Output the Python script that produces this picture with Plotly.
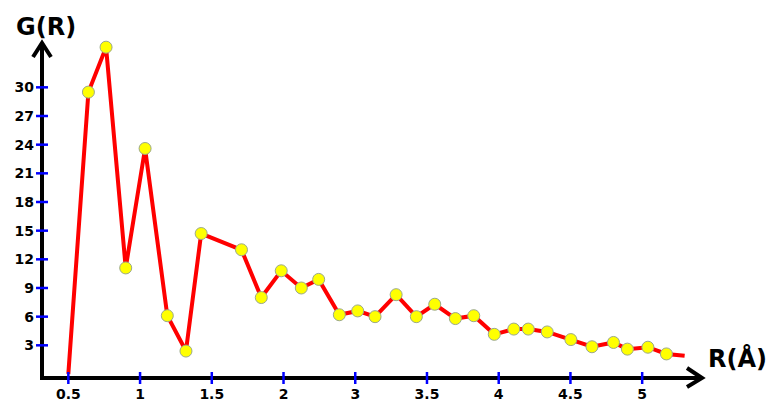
import plotly.graph_objects as go

# Data (x in axis units, ticks evenly spaced)
R = [0.50, 0.64, 0.763, 0.90, 1.035, 1.19, 1.32, 1.426, 1.707, 1.845, 1.984,
     2.124, 2.245, 2.389, 2.517, 2.638, 2.785, 2.926, 3.054, 3.198, 3.326,
     3.469, 3.605, 3.706, 3.838, 4.003, 4.15, 4.30, 4.397, 4.54, 4.669, 4.796]
G = [0.0, 29.5, 34.2, 11.1, 23.6, 6.1, 2.4, 14.7, 13.0, 8.0, 10.8,
     9.0, 9.9, 6.2, 6.6, 6.0, 8.3, 6.0, 7.3, 5.8, 6.1,
     4.15, 4.7, 4.7, 4.4, 3.6, 2.85, 3.3, 2.6, 2.8, 2.1, 1.9]

x_tickvals = [0.5, 1, 1.5, 2, 2.5, 3, 3.5, 4, 4.5]
x_ticktext = ["0.5", "1", "1.5", "2", "3", "3.5", "4", "4.5", "5"]
y_tickvals = [3, 6, 9, 12, 15, 18, 21, 24, 27, 30]
y_ticktext = [str(v) for v in y_tickvals]

W, H = 768, 403
L, Rm, T, B = 42, 66, 43, 25
PW, PH = W - L - Rm, H - T - B
XR = [0.3165, 4.917]
YR = [-0.42, 34.64]

def px(xp):
    return (xp - L) / PW

def py(yp):
    return (H - B - yp) / PH

fig = go.Figure()
fig.add_trace(go.Scatter(x=R, y=G, mode="lines",
                         line=dict(color="#ff0000", width=4),
                         hoverinfo="skip", cliponaxis=False))
fig.add_trace(go.Scatter(x=R[1:-1], y=G[1:-1], mode="markers",
                         marker=dict(symbol="circle", size=12, color="#ffff00",
                                     line=dict(color="#9aa88a", width=1)),
                         cliponaxis=False))

shapes = []
# axis lines and arrowheads (decoration)
axis_style = dict(color="black", width=4)
shapes.append(dict(type="line", xref="paper", yref="paper",
                   x0=px(42), x1=px(42), y0=py(380), y1=py(44), line=axis_style))
shapes.append(dict(type="path", xref="paper", yref="paper",
                   path=f"M{px(33)},{py(57)} L{px(42)},{py(43)} L{px(51)},{py(57)}",
                   line=axis_style))
shapes.append(dict(type="line", xref="paper", yref="paper",
                   x0=px(40), x1=px(700), y0=py(378), y1=py(378), line=axis_style))
shapes.append(dict(type="path", xref="paper", yref="paper",
                   path=f"M{px(687)},{py(368)} L{px(702)},{py(378)} L{px(687)},{py(387)}",
                   line=axis_style))
# blue tick marks crossing the axes
for v in x_tickvals:
    shapes.append(dict(type="line", xref="x", yref="paper", x0=v, x1=v,
                       y0=py(384), y1=py(372), line=dict(color="#0000ff", width=2.5)))
for v in y_tickvals:
    shapes.append(dict(type="line", xref="paper", yref="y", x0=px(36), x1=px(48),
                       y0=v, y1=v, line=dict(color="#0000ff", width=2.5)))

fig.update_layout(
    width=W, height=H,
    margin=dict(l=L, r=Rm, t=T, b=B, autoexpand=False),
    paper_bgcolor="white", plot_bgcolor="white",
    showlegend=False,
    shapes=shapes,
    xaxis=dict(range=XR, showgrid=False, zeroline=False, showline=False,
               automargin=False,
               tickmode="array", tickvals=x_tickvals, ticktext=x_ticktext,
               ticks="", ticklabelstandoff=6,
               tickfont=dict(family="DejaVu Sans", size=14, color="black", weight="bold")),
    yaxis=dict(range=YR, showgrid=False, zeroline=False, showline=False,
               automargin=False,
               tickmode="array", tickvals=y_tickvals, ticktext=y_ticktext,
               ticks="", ticklabelstandoff=7,
               tickfont=dict(family="DejaVu Sans", size=14, color="black", weight="bold")),
    annotations=[
        dict(text="<b>G(R)</b>", xref="paper", yref="paper", x=px(45.5), y=py(27),
             xanchor="center", yanchor="middle", showarrow=False,
             font=dict(family="DejaVu Sans", size=24, color="black")),
        dict(text="<b>R(Å)</b>", xref="paper", yref="paper", x=px(737.5), y=py(358),
             xanchor="center", yanchor="middle", showarrow=False,
             font=dict(family="DejaVu Sans", size=24, color="black")),
    ],
)

fig.write_html("out.html", config={"displayModeBar": False},
               post_script="document.body.style.margin='0';document.body.style.overflow='hidden';")
